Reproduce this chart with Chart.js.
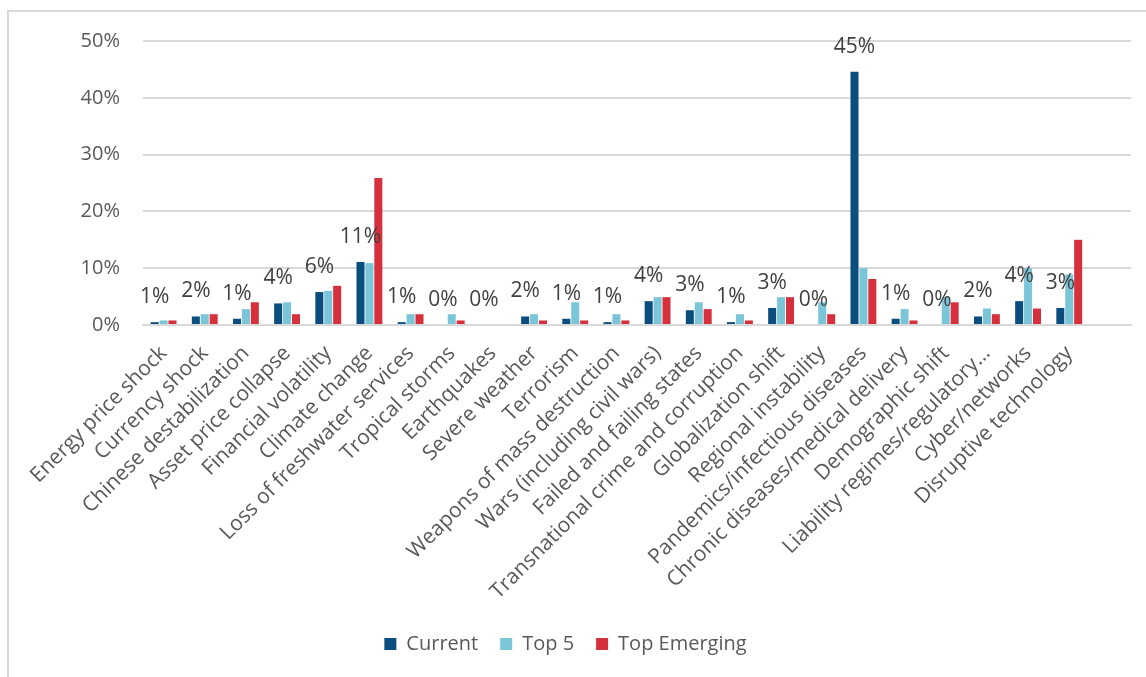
<!DOCTYPE html>
<html lang="en">
<head>
    <meta charset="UTF-8">
    <title>Risk ranking</title>
    <script src="https://cdn.jsdelivr.net/npm/chart.js"></script>
    <style>
        html, body { margin: 0; padding: 0; background: #fff; }
        .frame {
            position: absolute;
            left: 7px; top: 10px; right: -5px; bottom: -5px;
            border-left: 2px solid #d9d9d9;
            border-top: 2px solid #d9d9d9;
        }
        .chart-box { position: absolute; left: 0; top: 0; width: 1146px; height: 677px; }
    </style>
</head>
<body>
    <div class="frame"></div>
    <div class="chart-box">
        <canvas id="riskChart" width="1146" height="677"></canvas>
    </div>

    <script>
        // categories (the last one is an empty slot on the axis)
        const categories = [
            "Energy price shock", "Currency shock", "Chinese destabilization", "Asset price collapse",
            "Financial volatility", "Climate change", "Loss of freshwater services", "Tropical storms",
            "Earthquakes", "Severe weather", "Terrorism", "Weapons of mass destruction",
            "Wars (including civil wars)", "Failed and failing states", "Transnational crime and corruption",
            "Globalization shift", "Regional instability", "Pandemics/infectious diseases",
            "Chronic diseases/medical delivery", "Demographic shift", "Liability regimes/regulatory…",
            "Cyber/networks", "Disruptive technology", ""
        ];

        // values in percent
        const current = [0.5, 1.5, 1.1, 3.8, 5.8, 11.1, 0.5, 0, 0, 1.5, 1.1, 0.5,
                         4.2, 2.6, 0.5, 3.0, 0, 44.6, 1.1, 0, 1.5, 4.2, 3.0, null];
        const top5 = [0.8, 1.9, 2.8, 4.0, 6.0, 10.9, 1.9, 1.9, 0, 1.9, 4.0, 1.9,
                      4.9, 4.0, 1.9, 4.9, 4.0, 10.0, 2.8, 4.9, 2.9, 10.0, 8.9, null];
        const topEmerging = [0.8, 1.9, 4.0, 1.9, 6.9, 25.9, 1.9, 0.8, 0, 0.8, 0.8, 0.8,
                             4.9, 2.8, 0.8, 4.9, 1.9, 8.1, 0.8, 4.0, 1.9, 2.9, 15.0, null];

        const yTicks = [0, 10, 20, 30, 40, 50];

        const textGrey = "#595959";
        const fontFamily = "'Open Sans', sans-serif";

        // percent labels above the "Current" bars
        const currentLabels = {
            id: "currentLabels",
            afterDatasetsDraw(chart) {
                const ctx = chart.ctx;
                const meta = chart.getDatasetMeta(0);
                ctx.save();
                ctx.font = "21px " + fontFamily;
                ctx.fillStyle = "#404040";
                ctx.textAlign = "center";
                ctx.textBaseline = "alphabetic";
                meta.data.forEach((bar, i) => {
                    const v = current[i];
                    if (v === null) return;
                    ctx.fillText(Math.round(v) + "%", bar.x, bar.y - 19);
                });
                ctx.restore();
            }
        };

        new Chart(document.getElementById("riskChart"), {
            type: "bar",
            data: {
                labels: categories,
                datasets: [
                    { label: "Current", data: current, backgroundColor: "#0b4d7c" },
                    { label: "Top 5", data: top5, backgroundColor: "#7ac5d8" },
                    { label: "Top Emerging", data: topEmerging, backgroundColor: "#d5303c" }
                ]
            },
            options: {
                responsive: false,
                animation: false,
                layout: { padding: { left: 0, right: 15, top: 41, bottom: 13 } },
                datasets: { bar: { categoryPercentage: 0.65, barPercentage: 0.9 } },
                scales: {
                    x: {
                        grid: { display: false, drawTicks: false },
                        border: { display: true, color: "#d9d9d9", width: 2 },
                        ticks: {
                            autoSkip: false,
                            minRotation: 45,
                            maxRotation: 45,
                            padding: 16,
                            color: textGrey,
                            font: { family: fontFamily, size: 21 }
                        },
                        afterFit(scale) { scale.height = 287; }
                    },
                    y: {
                        min: 0,
                        max: 50,
                        afterBuildTicks(scale) { scale.ticks = yTicks.map(v => ({ value: v })); },
                        grid: { color: "#d9d9d9", lineWidth: 2, drawTicks: false },
                        border: { display: false },
                        ticks: {
                            padding: 23,
                            color: textGrey,
                            font: { family: fontFamily, size: 20 },
                            callback: v => v + "%"
                        },
                        afterFit(scale) { scale.width = 143; }
                    }
                },
                plugins: {
                    legend: {
                        position: "bottom",
                        labels: {
                            boxWidth: 12,
                            boxHeight: 12,
                            padding: 22,
                            color: textGrey,
                            font: { family: fontFamily, size: 20 }
                        }
                    },
                    tooltip: { enabled: false }
                }
            },
            plugins: [currentLabels]
        });
    </script>
</body>
</html>
